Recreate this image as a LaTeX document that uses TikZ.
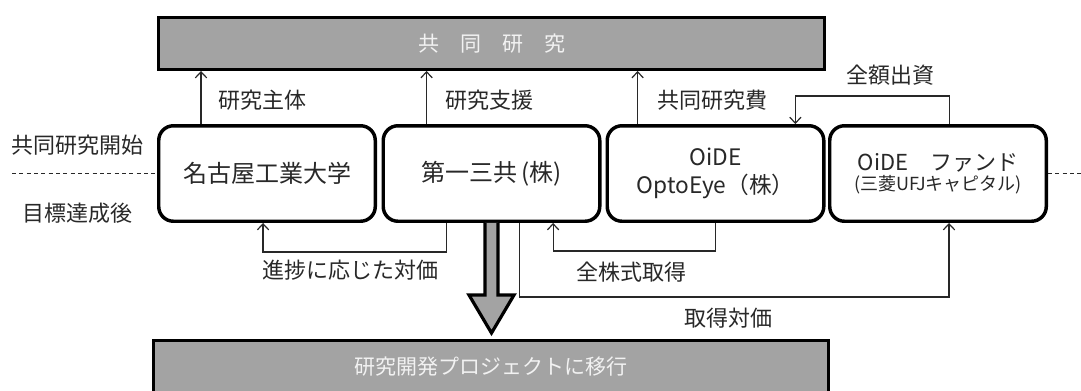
\documentclass[tikz,border=0pt]{standalone}
\usepackage{fontspec}
\setmainfont{Noto Sans CJK JP}
\usetikzlibrary{arrows.meta,calc}
\definecolor{boxgray}{RGB}{163,163,163}
\definecolor{ink}{RGB}{40,40,40}
\definecolor{paletext}{RGB}{242,242,242}
\tikzset{
  rbox/.style={draw=black, line width=2.6pt, rounded corners=11pt, fill=white,
    minimum width=162.4pt, minimum height=71.6pt, inner sep=0pt, align=center, text=ink},
  graybox/.style={draw=black, line width=2.4pt, fill=boxgray, inner sep=0pt},
  conn/.style={draw=ink, line width=0.9pt},
  arr/.style={conn, -{Straight Barb[length=4.5pt,width=8.5pt]}},
  lbl/.style={font=\fontsize{16.5}{18}\selectfont, text=ink, inner sep=0pt},
  dashline/.style={draw=ink, line width=0.9pt, dash pattern=on 3pt off 2.5pt},
  bigarr/.style={draw=black, line width=2.4pt, fill=boxgray, line join=miter},
  bigfont/.style={font=\fontsize{18}{21}\selectfont},
  midfont/.style={font=\fontsize{17}{21}\selectfont}
}
\begin{document}
\begin{tikzpicture}[x=0.75pt, y=-0.75pt]
\useasboundingbox (0,0) rectangle (1081,390);
\clip (0,0) rectangle (1081,390);

% top gray box
\node (top) [graybox, minimum width=499.3pt, minimum height=38.8pt] at (491.5,43.5) {};
\node (toptext) [text=paletext, font=\fontsize{15.75}{18}\selectfont, inner sep=0pt] at (491.5,43.5) {共　同　研　究};

% bottom gray box
\node (proj) [graybox, minimum width=506.1pt, minimum height=100pt, anchor=north] at (491,339) {};
\node (projtext) [text=paletext, font=\fontsize{15.75}{18}\selectfont, inner sep=0pt] at (491,367) {研究開発プロジェクトに移行};

% main boxes
\node (b1) [rbox, bigfont] at (267,173.5) {名古屋工業大学};
\node (b2) [rbox, bigfont] at (491.5,173.5) {第一三共\,(株)};
\node (b3) [rbox, midfont] at (715.5,173.5) {OiDE\\OptoEye（株）};
\node (b4) [rbox] at (938,173.5) {{\fontsize{16.5}{20}\selectfont OiDE　ファンド}\\[1pt]{\fontsize{13.5}{17}\selectfont (三菱UFJキャピタル)}};

% side labels and dashed lines
\node (start) [lbl] at (78,145) {共同研究開始};
\node (after) [lbl] at (77,213) {目標達成後};
\coordinate (dl) at (12,173.5);
\coordinate (dr) at (1081,173.5);
\draw[dashline] (dl) -- (b1.west);
\draw[dashline] (b4.east) -- (dr);

% arrows up to joint research
\coordinate (u1) at ($(b1.north west)!0.2!(b1.north east)$);
\coordinate (u2) at ($(b2.north west)!0.205!(b2.north east)$);
\coordinate (u3) at ($(b3.north west)!0.146!(b3.north east)$);
\draw[arr] (u1) -- (u1 |- top.south);
\draw[arr] (u2) -- (u2 |- top.south);
\draw[arr] (u3) -- (u3 |- top.south);
\node (l1) [lbl] at (262,100) {研究主体};
\node (l2) [lbl] at (489,100) {研究支援};
\node (l3) [lbl] at (712,100) {共同研究費};

% full investment
\coordinate (f1) at ($(b4.north west)!0.553!(b4.north east)$);
\coordinate (f2) at ($(b3.north west)!0.863!(b3.north east)$);
\draw[arr] (f1) -- ++(0,-28) -| (f2);
\node (l4) [lbl] at (890,75) {全額出資};

% progress payment
\coordinate (p1) at ($(b2.south west)!0.297!(b2.south east)$);
\coordinate (p2) at ($(b1.south west)!0.482!(b1.south east)$);
\draw[arr] (p1) -- ++(0,29) -| (p2);
\node (l5) [lbl] at (350,270) {進捗に応じた対価};

% all shares acquisition
\coordinate (s1) at ($(b3.south west)!0.5!(b3.south east)$);
\coordinate (s2) at ($(b2.south west)!0.78!(b2.south east)$);
\draw[arr] (s1) -- ++(0,28) -| (s2);
\node (l6) [lbl] at (631,272) {全株式取得};

% acquisition price
\coordinate (c1) at ($(b2.south west)!0.626!(b2.south east)$);
\coordinate (c2) at ($(b4.south west)!0.55!(b4.south east)$);
\draw[arr] (c1) -- ++(0,74) -| (c2);
\node (l7) [lbl] at (728,318) {取得対価};

% big arrow
\coordinate (tip) at ($(b2.south |- proj.north)+(0,-6)$);
\filldraw[bigarr] ($(b2.south)+(-6.5,0)$) -- ($(tip)+(-6.5,-38)$) -- ($(tip)+(-22.5,-38)$)
  -- (tip) -- ($(tip)+(22.5,-38)$) -- ($(tip)+(6.5,-38)$) -- ($(b2.south)+(6.5,0)$);
\end{tikzpicture}
\end{document}
